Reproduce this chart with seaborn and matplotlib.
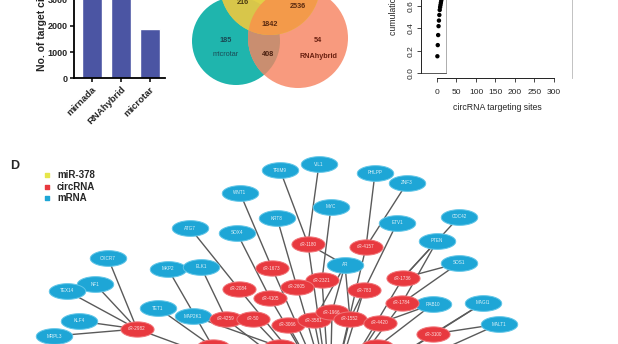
import numpy as np
import pandas as pd
import matplotlib
matplotlib.use("Agg")
import matplotlib.pyplot as plt
import seaborn as sns
from matplotlib.patches import Circle
from matplotlib.path import Path

sns.set_style("white")
plt.rcParams["font.family"] = ["Liberation Sans", "DejaVu Sans"]

# ---------------- data ----------------
tools = ["mirnada", "RNAhybrid", "microtar"]
target_counts = [4600, 4840, 1870]
bar_ticks = [0, 1000, 2000, 3000]

venn_counts = ["216", "2536", "1842", "185", "408", "54"]
venn_set_labels = ["microtar", "RNAhybrid"]

sites = [1, 2, 3, 4, 5, 6, 7, 8, 9, 10, 11, 12, 13, 14]
cumulation = [0.15, 0.25, 0.34, 0.42, 0.47, 0.52, 0.565, 0.59, 0.61, 0.63, 0.65, 0.67, 0.69, 0.71]
site_ticks = [0, 50, 100, 150, 200, 250, 300]
cum_ticks = [0.0, 0.2, 0.4, 0.6]

legend_labels = ["miR-378", "circRNA", "mRNA"]
legend_colors = ["#e6e64a", "#e8393f", "#1ea6d6"]

mrna_names = ["TRIM9", "VIL1", "WNT1", "PHLPP", "ZNF3", "MYC", "KRT8", "ATG7", "SOX4",
              "ETV1", "CDC42", "PTEN", "SOS1", "AR", "CXCR7", "MKP2", "ELK1", "NF1",
              "TEX14", "TET1", "MAP2K1", "KLF4", "MRPL3", "RAB10", "MAGI1", "MALT1"]
mrna_x = [280, 319, 240, 375, 407, 331, 277, 190, 237, 397, 459, 437, 459, 345, 108, 168,
          201, 95, 67, 158, 193, 79, 54, 433, 483, 499]
mrna_y = [170, 164, 193, 173, 183, 207, 218, 228, 233, 223, 217, 241, 263, 265, 258, 269,
          267, 284, 291, 308, 316, 321, 336, 304, 303, 324]

circ_names = ["cR-1180", "cR-4157", "cR-1673", "cR-2321", "cR-2605", "cR-2084", "cR-4105",
              "cR-783", "cR-1736", "cR-1784", "cR-4259", "cR-50", "cR-3066", "cR-3581",
              "cR-1966", "cR-1552", "cR-4420", "cR-3100", "cR-2982", "cR-2317", "cR-1402",
              "cR-3390"]
circ_x = [308, 366, 272, 322, 297, 239, 270, 364, 403, 402, 226, 253, 288, 314, 332, 350,
          380, 433, 137, 213, 280, 377]
circ_y = [244, 247, 268, 280, 287, 289, 298, 290, 278, 303, 319, 319, 325, 320, 312, 319,
          323, 334, 329, 347, 347, 347]

hub_name = "miR-378"
hub_x, hub_y = 330, 400

edges_src = ["TRIM9", "VIL1", "WNT1", "PHLPP", "ZNF3", "MYC", "KRT8", "ATG7", "SOX4",
             "ETV1", "CDC42", "PTEN", "PTEN", "SOS1", "SOS1", "RAB10", "RAB10", "MAGI1",
             "MAGI1", "MALT1", "MALT1", "AR", "AR", "AR", "AR", "CXCR7", "NF1", "TEX14",
             "KLF4", "MRPL3", "MKP2", "ELK1", "TET1", "MAP2K1", "RAB10"]
edges_dst = ["cR-1180", "cR-1180", "cR-1673", "cR-4157", "cR-4157", "cR-2321", "cR-2605",
             "cR-2084", "cR-4105", "cR-1552", "cR-1736", "cR-1736", "cR-1784", "cR-1736",
             "cR-1784", "cR-1784", "cR-4420", "cR-3100", hub_name, "cR-3100", hub_name,
             "cR-1180", "cR-3581", "cR-1966", "cR-1552", "cR-2982", "cR-2982", "cR-2982",
             "cR-2982", "cR-2982", "cR-2317", "cR-4259", "cR-2317", "cR-1402", "cR-3390"]

# ---------------- figure ----------------
W, H = 618, 344
fig = plt.figure(figsize=(6.18, 3.44), dpi=100)


def px_axes(x0, y0, x1, y1):
    return fig.add_axes([x0 / W, 1 - y1 / H, (x1 - x0) / W, (y1 - y0) / H])


# ---------- network (panel D) ----------
axn = px_axes(0, 150, 618, 344)

pos = {n: (x, y) for n, x, y in zip(mrna_names, mrna_x, mrna_y)}
pos.update({n: (x, y) for n, x, y in zip(circ_names, circ_x, circ_y)})
pos[hub_name] = (hub_x, hub_y)

for s, d in zip(edges_src, edges_dst):
    (x0, y0), (x1, y1) = pos[s], pos[d]
    axn.plot([x0, x1], [y0, y1], color="#5a5a5a", lw=1.0, zorder=1)
for n in circ_names:
    (x0, y0), (x1, y1) = pos[n], pos[hub_name]
    axn.plot([x0, x1], [y0, y1], color="#5a5a5a", lw=1.0, zorder=1)

theta = np.linspace(0, 2 * np.pi, 80)
ell_blue = Path(np.c_[np.cos(theta), 0.43 * np.sin(theta)])
ell_red = Path(np.c_[np.cos(theta), 0.46 * np.sin(theta)])

mrna_df = pd.DataFrame({"x": mrna_x, "y": mrna_y, "name": mrna_names})
circ_df = pd.DataFrame({"x": circ_x, "y": circ_y, "name": circ_names})
sns.scatterplot(data=mrna_df, x="x", y="y", marker=ell_blue, s=690, color=legend_colors[2],
                edgecolor="#62c6e8", linewidth=0.7, ax=axn, zorder=3, legend=False)
sns.scatterplot(data=circ_df, x="x", y="y", marker=ell_red, s=570, color=legend_colors[1],
                edgecolor="#f07478", linewidth=0.7, ax=axn, zorder=3, legend=False)
axn.set_xlim(0, 618)
axn.set_ylim(344, 150)
axn.axis("off")
for df in (mrna_df, circ_df):
    for _, r in df.iterrows():
        if r.y > 340:
            continue
        axn.text(r.x, r.y, r["name"], color="white", fontsize=3.3, ha="center",
                 va="center", zorder=4, alpha=0.85)

axn.text(15, 166, "D", fontsize=9, fontweight="bold", ha="center", va="center")
for i, (lab, col) in enumerate(zip(legend_labels, legend_colors)):
    yy = 175 + 11.5 * i
    axn.scatter([47], [yy], marker="s", s=7, color=col, zorder=5)
    axn.text(57, yy, lab, fontsize=7, fontweight="bold", va="center", ha="left")

# ---------- bar chart ----------
axb = px_axes(74, 78.3 - 157.8, 165, 78.3)
sns.barplot(x=tools, y=target_counts, color="#4b55a3", width=0.68, saturation=1, ax=axb)
axb.set_ylim(0, 6000)
axb.set_xlim(-0.62, 2.52)
axb.set_yticks(bar_ticks)
sns.despine(ax=axb)
for sp in ["left", "bottom"]:
    axb.spines[sp].set_linewidth(1.3)
    axb.spines[sp].set_color("black")
axb.tick_params(axis="both", length=3, width=1.1, color="black", labelsize=6.5, pad=1.5,
                left=True, bottom=True)
for lab in axb.get_yticklabels():
    lab.set_fontweight("bold")
axb.set_xticks(range(len(tools)))
axb.set_xticklabels(tools, rotation=45, ha="right", rotation_mode="anchor",
                    fontweight="bold", fontsize=6.8)
fig.text(42 / W, 1 - 71 / H, "No. of target circRNAs", rotation=90, fontsize=7.5,
         fontweight="bold", ha="center", va="bottom")

# ---------- venn ----------
axv = px_axes(180, 0, 360, 110)
axv.set_xlim(180, 360)
axv.set_ylim(110, 0)
axv.set_aspect("equal")
axv.axis("off")
teal = Circle((236, 41), 44, fc="#1fb5ad", ec="none")
sal = Circle((298, 38), 50, fc="#f89a7e", ec="none")
yel = Circle((270, -15), 50, fc="#e2cf48", ec="none")
for p in (teal, sal, yel):
    axv.add_patch(p)
ts = Circle((298, 38), 50, fc="#c98e70", ec="none")
axv.add_patch(ts)
ts.set_clip_path(teal)
yt = Circle((270, -15), 50, fc="#d8c64a", ec="none")
axv.add_patch(yt)
yt.set_clip_path(teal)
ys = Circle((270, -15), 50, fc="#f39a4a", ec="none")
axv.add_patch(ys)
ys.set_clip_path(sal)
venn_pos = [(243, 3), (298, 6), (270, 24), (226, 40), (268, 55), (318, 40)]
venn_col = ["#4a3a10", "#5a2a10", "#5a2a10", "#1a4a55", "#4a2010", "#6a2010"]
for t, (x, y), c in zip(venn_counts, venn_pos, venn_col):
    axv.text(x, y, t, fontsize=5.2, fontweight="bold", color=c, ha="center", va="center")
axv.text(226, 54, venn_set_labels[0], fontsize=5.2, color="#1a4a55", ha="center", va="center")
axv.text(318, 56, venn_set_labels[1], fontsize=5.2, fontweight="bold", color="#6a2010",
         ha="center", va="center")

# ---------- cumulative scatter ----------
axs = px_axes(421, -43, 572, 78)
sns.scatterplot(x=sites, y=cumulation, color="black", s=10, edgecolor="none", ax=axs)
axs.set_xlim(-41, 346.2)
axs.set_ylim(-0.045, 1.04)
axs.plot([23, 23], [0, 1.04], color="#a0a0a0", lw=0.6)
axs.plot([-41, 23], [0, 0], color="#555555", lw=0.7)
axs.spines["top"].set_visible(False)
axs.spines["right"].set_color("#b8b8b8")
axs.spines["right"].set_linewidth(0.6)
axs.spines["left"].set_bounds(0, 1.0)
axs.spines["bottom"].set_bounds(0, 300)
for sp in ["left", "bottom"]:
    axs.spines[sp].set_color("#222222")
    axs.spines[sp].set_linewidth(0.7)
axs.set_xticks(site_ticks)
axs.set_yticks(cum_ticks)
axs.set_yticklabels([f"{v:.1f}" for v in cum_ticks], rotation=90, va="center")
axs.tick_params(axis="x", length=3, width=0.6, labelsize=6, pad=5, bottom=True)
axs.tick_params(axis="y", length=3, width=0.6, labelsize=6, pad=1.5, left=True)
axs.set_xlabel("")
axs.set_ylabel("")
fig.text(497 / W, 1 - 108 / H, "circRNA targeting sites", fontsize=6.3, ha="center", va="center")
fig.text(393 / W, 1 - 35 / H, "cumulation proportion", rotation=90, fontsize=6.3,
         ha="center", va="bottom")

fig.savefig("out.png", dpi=100)
